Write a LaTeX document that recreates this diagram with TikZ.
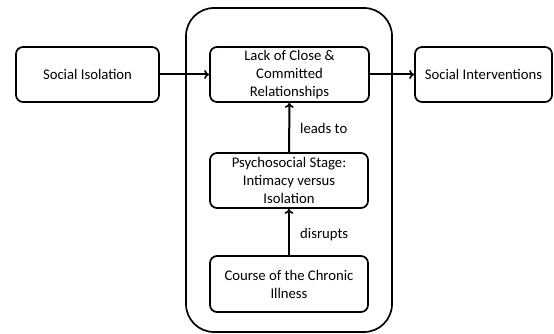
\documentclass[tikz,border=0pt]{standalone}
\usepackage{fontspec}
\setmainfont{Carlito}
\usetikzlibrary{arrows.meta}
\tikzset{
  box/.style={draw, line width=1.7pt, rounded corners=7pt, align=center, inner sep=2pt,
    font=\fontsize{14.7}{18}\selectfont},
  conn/.style={line width=2pt, -{To[length=5pt,width=9pt,line width=1.6pt]}},
  lbl/.style={font=\fontsize{14.7}{18}\selectfont, anchor=west, inner sep=0pt}
}
\begin{document}
\begin{tikzpicture}[x=1pt,y=-1pt]
\useasboundingbox (0,0) rectangle (554,334);
\draw[line width=1.7pt, rounded corners=28pt] (186,8) rectangle (392,332);
\node[box, minimum width=143pt, minimum height=55pt] (si) at (87.5,74.5) {Social Isolation};
\node[box, minimum width=159pt, minimum height=55pt] (lack) at (289.5,74.5) {Lack of Close \&\\Committed\\Relationships};
\node[box, minimum width=137pt, minimum height=55pt] (sint) at (483.5,74.5) {Social Interventions};
\node[box, minimum width=158pt, minimum height=55pt] (psy) at (289,180.5) {Psychosocial Stage:\\Intimacy versus\\Isolation};
\node[box, minimum width=158pt, minimum height=56pt] (course) at (289,284) {Course of the Chronic\\Illness};
\draw[conn] (si) -- (lack);
\draw[conn] (lack) -- (sint);
\draw[conn] (psy) -- (lack);
\draw[conn] (course) -- (psy);
\node[lbl] (l1) at (300,128) {leads to};
\node[lbl] (l2) at (300,235) {disrupts};
\end{tikzpicture}
\end{document}
